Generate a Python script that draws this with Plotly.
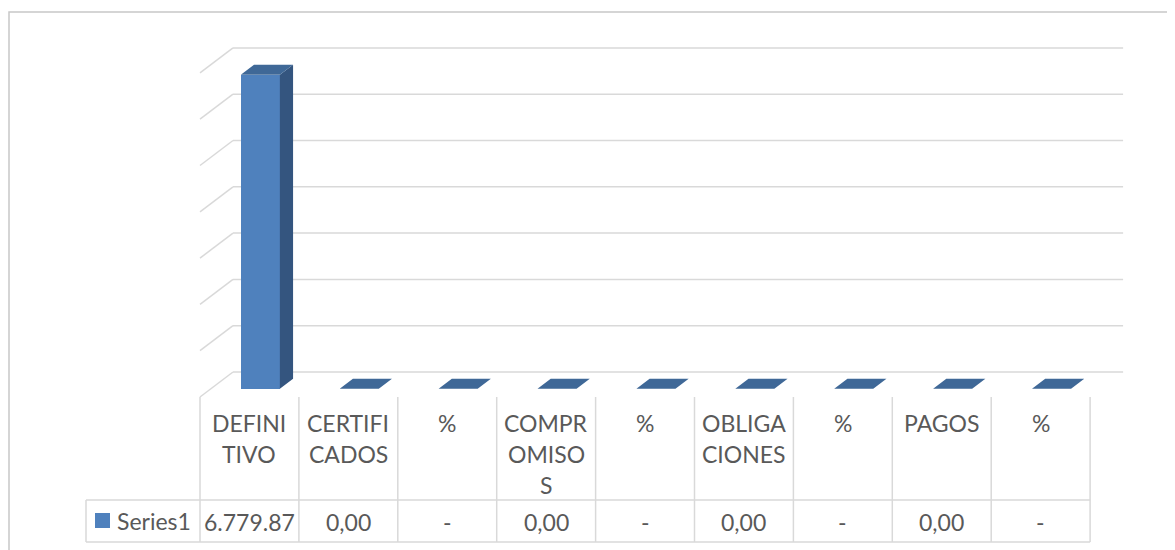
import plotly.graph_objects as go

# data as shown in the chart's data table
label_lines = [
    ["DEFINI", "TIVO"],
    ["CERTIFI", "CADOS"],
    ["%"],
    ["COMPR", "OMISO", "S"],
    ["%"],
    ["OBLIGA", "CIONES"],
    ["%"],
    ["PAGOS"],
    ["%"],
]
values = [6779.87, 0, 0, 0, 0, 0, 0, 0, 0]
value_text = ["6.779.87", "0,00", "-", "0,00", "-", "0,00", "-", "0,00", "-"]
series_name = "Series1"
grid_values = [0, 1000, 2000, 3000, 4000, 5000, 6000, 7000]

# page geometry (pixels) used to set axis ranges
W, H = 1175, 550
OFF = 8              # the page body adds an 8px margin around the figure
col_px = 98.9        # width of one category column
left_px = 200        # left edge of first category
floor_px = 397       # front floor line
px_per_val = 46.3 / 1000

FRONT = "#4f81bd"
SIDE = "#34557f"
TOP = "#3f6897"
GRID = "#d9d9d9"
TEXT = "#595959"
FONT = "Lato, 'Open Sans', sans-serif"

n = len(values)
x_range = [-0.5 - (left_px - OFF) / col_px, -0.5 + (W + OFF - left_px) / col_px]
y_range = [-(H + OFF - floor_px) / px_per_val, (floor_px - OFF) / px_per_val]


def py(p):
    """page pixel row -> y value on the axis"""
    return (floor_px - p) / px_per_val


def px(p):
    """page pixel column -> x value on the axis"""
    return -0.5 + (p - left_px) / col_px


# depth of the 3d box (oblique projection) in axis units
depth_x = 33 / col_px
depth_y = 25 / px_per_val
bar_front, bar_back = 0.33, 0.73
bar_w = 0.395

fx, fy = depth_x * bar_front, depth_y * bar_front
ddx, ddy = depth_x * (bar_back - bar_front), depth_y * (bar_back - bar_front)

fig = go.Figure()

# front faces
fig.add_trace(go.Bar(
    x=[i + fx for i in range(n)], y=values, base=[fy] * n, width=bar_w,
    marker=dict(color=FRONT, line=dict(width=0)), hoverinfo="skip",
))

side_x, side_y, top_x, top_y = [], [], [], []
for i, v in enumerate(values):
    xl = i + fx - bar_w / 2
    xr = i + fx + bar_w / 2
    yb, yt = fy, fy + v
    side_x += [xr, xr, xr + ddx, xr + ddx, xr, None]
    side_y += [yb, yt, yt + ddy, yb + ddy, yb, None]
    top_x += [xl, xr, xr + ddx, xl + ddx, xl, None]
    top_y += [yt, yt, yt + ddy, yt + ddy, yt, None]

fig.add_trace(go.Scatter(x=side_x, y=side_y, fill="toself", fillcolor=SIDE,
                         mode="lines", line=dict(width=0), hoverinfo="skip"))
fig.add_trace(go.Scatter(x=top_x, y=top_y, fill="toself", fillcolor=TOP,
                         mode="lines", line=dict(width=0), hoverinfo="skip"))

shapes = []
# back wall gridlines and side wall diagonals
for g in grid_values:
    shapes.append(dict(type="line", x0=-0.5 + depth_x, x1=n - 0.5 + depth_x,
                       y0=g + depth_y, y1=g + depth_y,
                       line=dict(color=GRID, width=1.5), layer="below"))
    shapes.append(dict(type="line", x0=-0.5, x1=-0.5 + depth_x,
                       y0=g, y1=g + depth_y,
                       line=dict(color=GRID, width=1.5), layer="below"))

# data table
tbl_top, tbl_mid, tbl_bot = py(397), py(500), py(542)
legend_left = px(86)
for i in range(n + 1):
    shapes.append(dict(type="line", x0=i - 0.5, x1=i - 0.5, y0=tbl_top, y1=tbl_bot,
                       line=dict(color=GRID, width=1.5)))
shapes.append(dict(type="line", x0=legend_left, x1=legend_left, y0=tbl_mid, y1=tbl_bot,
                   line=dict(color=GRID, width=1.5)))
for yy in (tbl_mid, tbl_bot):
    shapes.append(dict(type="line", x0=legend_left, x1=n - 0.5, y0=yy, y1=yy,
                       line=dict(color=GRID, width=1.5)))

# legend key
shapes.append(dict(type="rect", x0=px(95), x1=px(110), y0=py(528), y1=py(513),
                   fillcolor=FRONT, line=dict(width=0)))

# chart border (left edge sits at the figure edge)
shapes.append(dict(type="rect", xref="paper", yref="paper",
                   x0=1 / W, x1=1.05, y0=-0.05, y1=1 - (12 - OFF) / H,
                   line=dict(color="#c8c8c8", width=1.5)))

annotations = []
line_gap = 31
fnt = dict(family=FONT, size=23, color=TEXT)
for i, lines in enumerate(label_lines):
    for k, txt in enumerate(lines):
        annotations.append(dict(x=i, y=py(423 + k * line_gap), text=txt, showarrow=False,
                                xanchor="center", yanchor="middle", font=fnt))
    annotations.append(dict(x=i, y=py(522), text=value_text[i], showarrow=False,
                            xanchor="center", yanchor="middle", font=fnt))
annotations.append(dict(x=px(115), y=py(521), text=series_name, showarrow=False,
                        xanchor="left", yanchor="middle", font=fnt))

fig.update_layout(
    width=W, height=H,
    margin=dict(l=0, r=0, t=0, b=0),
    plot_bgcolor="white", paper_bgcolor="white",
    showlegend=False,
    shapes=shapes,
    annotations=annotations,
    xaxis=dict(range=x_range, visible=False, fixedrange=True),
    yaxis=dict(range=y_range, visible=False, fixedrange=True),
    bargap=0,
)

fig.write_html("out.html")
